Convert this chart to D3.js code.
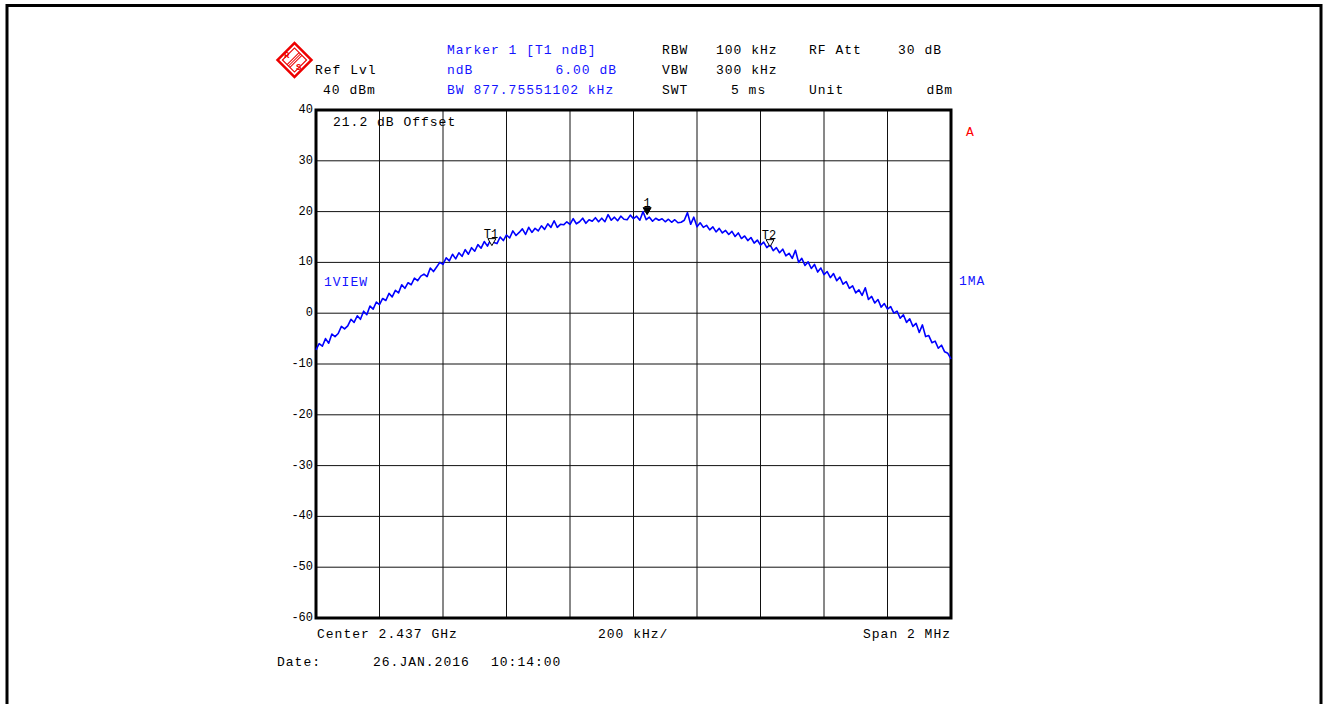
<!DOCTYPE html>
<html>
<head>
<meta charset="utf-8">
<script src="https://cdn.jsdelivr.net/npm/d3@7"></script>
<style>
  body { margin: 0; background: #fff; }
  svg text { font-family: "Liberation Mono", "DejaVu Sans Mono", monospace; font-size: 13px; letter-spacing: 1px; }
</style>
</head>
<body>
<div id="chart"></div>
<script>
// sweep: center 2437 MHz, span 2 MHz, trace levels in dBm
const centerMHz = 2437;
const spanMHz = 2;
const levelTicks = [40, 30, 20, 10, 0, -10, -20, -30, -40, -50, -60];
const traceLevels = [
  -7.2, -6.0, -6.5, -5.0, -5.9, -4.1, -4.6, -4.0, -2.6, -3.1,
  -2.5, -1.2, -1.8, -0.5, -1.2, 0.4, -0.3, 1.4, 0.8, 2.2,
  1.7, 2.9, 2.5, 3.9, 3.2, 4.5, 4.0, 5.6, 4.9, 6.0,
  5.6, 6.9, 6.4, 7.3, 7.7, 7.2, 8.9, 8.2, 9.1, 10.0,
  9.6, 10.9, 10.3, 11.6, 10.7, 11.9, 11.2, 12.5, 11.6, 12.9,
  12.2, 13.5, 12.8, 14.1, 13.2, 14.5, 13.9, 13.7, 15.0, 14.3,
  15.4, 14.8, 16.2, 15.3, 15.9, 16.6, 15.5, 16.9, 15.9, 16.7,
  16.2, 17.2, 16.5, 17.6, 16.9, 18.2, 16.9, 17.5, 17.4, 18.0,
  17.5, 18.6, 17.6, 18.0, 18.7, 17.7, 18.4, 18.1, 18.8, 18.0,
  18.7, 18.0, 19.4, 18.3, 18.9, 18.2, 19.1, 18.5, 18.4, 19.3,
  18.6, 19.1, 18.3, 20.0, 18.4, 18.9, 18.1, 18.7, 18.3, 18.6,
  18.0, 18.5, 17.9, 18.4, 17.8, 17.9, 18.3, 19.8, 17.5, 18.9,
  17.0, 17.8, 16.9, 17.3, 16.4, 17.0, 16.0, 16.7, 15.8, 16.3,
  15.5, 16.1, 15.1, 15.8, 14.7, 15.2, 14.3, 14.9, 13.8, 14.4,
  13.4, 14.0, 12.9, 13.5, 12.3, 12.9, 11.9, 12.6, 11.3, 11.8,
  10.8, 12.4, 10.0, 10.8, 9.4, 10.1, 8.8, 9.6, 8.1, 8.9,
  7.6, 8.2, 7.0, 7.8, 6.4, 7.1, 5.7, 6.2, 4.9, 5.4,
  4.0, 4.6, 3.5, 5.0, 2.7, 3.3, 2.0, 2.7, 1.2, 1.9,
  0.8, 1.3, 0.0, 0.4, -1.0, -0.3, -1.8, -1.1, -2.6, -2.0,
  -3.8, -2.3, -4.6, -4.4, -5.8, -5.5, -6.9, -6.3, -7.6, -7.9,
  -9.0
];
const markerNames = ["T1", "1", "T2"];
const markerFreqs = [2436.554, 2437.043, 2437.430];
const markerLevels = [13.3, 19.4, 13.1];
const markerFilled = [false, true, false];

const width = 1328, height = 704;
const svg = d3.select("#chart").append("svg")
  .attr("width", width)
  .attr("height", height);

// outer frame
svg.append("path")
  .attr("d", "M7,704 V5.5 H1321 V704")
  .attr("fill", "none")
  .attr("stroke", "#000")
  .attr("stroke-width", 3);

const plot = { left: 316, right: 951, top: 110, bottom: 618 };
const x = d3.scaleLinear()
  .domain([centerMHz - spanMHz / 2, centerMHz + spanMHz / 2])
  .range([plot.left, plot.right]);
const y = d3.scaleLinear()
  .domain([-60, 40])
  .range([plot.bottom, plot.top]);

// grid, 10 x 10 divisions
const xGrid = d3.range(11).map(i => x.domain()[0] + i * spanMHz / 10);
svg.append("g")
  .selectAll("line")
  .data(xGrid)
  .join("line")
    .attr("x1", d => x(d)).attr("x2", d => x(d))
    .attr("y1", plot.top).attr("y2", plot.bottom)
    .attr("stroke", "#111")
    .attr("stroke-width", 1);
svg.append("g")
  .selectAll("line")
  .data(levelTicks)
  .join("line")
    .attr("y1", d => y(d)).attr("y2", d => y(d))
    .attr("x1", plot.left).attr("x2", plot.right)
    .attr("stroke", "#111")
    .attr("stroke-width", 1);

// y tick labels
svg.append("g")
  .selectAll("text")
  .data(levelTicks)
  .join("text")
    .attr("x", plot.left - 3)
    .attr("y", d => y(d) + 3)
    .attr("text-anchor", "end")
    .style("font-size", "12px")
    .style("letter-spacing", "0px")
    .text(d => d);

// frame of the screen
svg.append("rect")
  .attr("x", plot.left).attr("y", plot.top)
  .attr("width", plot.right - plot.left)
  .attr("height", plot.bottom - plot.top)
  .attr("fill", "none")
  .attr("stroke", "#000")
  .attr("stroke-width", 3);

// trace
const step = spanMHz / (traceLevels.length - 1);
const line = d3.line()
  .x((d, i) => x(x.domain()[0] + i * step))
  .y(d => y(d));
svg.append("path")
  .datum(traceLevels)
  .attr("d", line)
  .attr("fill", "none")
  .attr("stroke", "#0000ff")
  .attr("stroke-width", 1.6)
  .attr("stroke-linejoin", "round");

// markers
const markers = markerNames.map((n, i) => ({ name: n, f: markerFreqs[i], lvl: markerLevels[i], filled: markerFilled[i] }));
const mg = svg.append("g").selectAll("g").data(markers).join("g")
  .attr("transform", d => `translate(${x(d.f)},${y(d.lvl)})`);
mg.append("path")
  .attr("d", "M-4,-7 L4,-7 L0,0 Z")
  .attr("fill", d => d.filled ? "#000" : "#fff")
  .attr("stroke", "#000")
  .attr("stroke-width", 1);
mg.append("text")
  .attr("x", d => d.filled ? 0 : -1)
  .attr("y", -8)
  .attr("text-anchor", "middle")
  .style("font-size", "12px")
  .style("letter-spacing", "0px")
  .text(d => d.name);

// header text
const blue = "#1414ff";
const labels = [
  ["Marker 1 [T1 ndB]", 447, 54, blue, "start"],
  ["RBW", 662, 54, "#000", "start"],
  ["100 kHz", 716, 54, "#000", "start"],
  ["RF Att", 809, 54, "#000", "start"],
  ["30 dB", 898, 54, "#000", "start"],
  ["Ref Lvl", 315, 74, "#000", "start"],
  ["ndB", 447, 74, blue, "start"],
  ["6.00 dB", 617, 74, blue, "end"],
  ["VBW", 662, 74, "#000", "start"],
  ["300 kHz", 716, 74, "#000", "start"],
  ["40 dBm", 323, 94, "#000", "start"],
  ["BW 877.75551102 kHz", 447, 94, blue, "start"],
  ["SWT", 662, 94, "#000", "start"],
  ["5 ms", 731, 94, "#000", "start"],
  ["Unit", 809, 94, "#000", "start"],
  ["dBm", 953, 94, "#000", "end"],
  ["21.2 dB Offset", 333, 126, "#000", "start"],
  ["1VIEW", 324, 286, blue, "start"],
  ["1MA", 959, 285, blue, "start"],
  ["A", 966, 136, "#ff0000", "start"],
  ["Center 2.437 GHz", 317, 638, "#000", "start"],
  ["200 kHz/", 598, 638, "#000", "start"],
  ["Span 2 MHz", 951, 638, "#000", "end"],
  ["Date:", 277, 666, "#000", "start"],
  ["26.JAN.2016", 373, 666, "#000", "start"],
  ["10:14:00", 491, 666, "#000", "start"]
];
svg.append("g")
  .selectAll("text")
  .data(labels)
  .join("text")
    .attr("x", d => d[1])
    .attr("y", d => d[2])
    .attr("fill", d => d[3])
    .attr("text-anchor", d => d[4])
    .text(d => d[0]);

// R&S logo
const logo = svg.append("g").attr("transform", "translate(294.5,60) rotate(45)");
logo.append("rect").attr("x", -12).attr("y", -12).attr("width", 24).attr("height", 24)
  .attr("fill", "#fff").attr("stroke", "#e00").attr("stroke-width", 2.5);
logo.append("rect").attr("x", -8.5).attr("y", -8.5).attr("width", 17).attr("height", 17)
  .attr("fill", "none").attr("stroke", "#e00").attr("stroke-width", 1.2);
logo.selectAll("line.s").data([-2, 0, 2]).join("line")
  .attr("x1", d => d).attr("x2", d => d).attr("y1", -8.5).attr("y2", 8.5)
  .attr("stroke", "#e00").attr("stroke-width", 1);
svg.append("text").attr("x", 284).attr("y", 58).attr("fill", "#e00")
  .style("font-size", "9px").style("letter-spacing", "0px").style("font-weight", "bold").text("R");
svg.append("text").attr("x", 296).attr("y", 70).attr("fill", "#e00")
  .style("font-size", "9px").style("letter-spacing", "0px").style("font-weight", "bold").text("S");
</script>
</body>
</html>
